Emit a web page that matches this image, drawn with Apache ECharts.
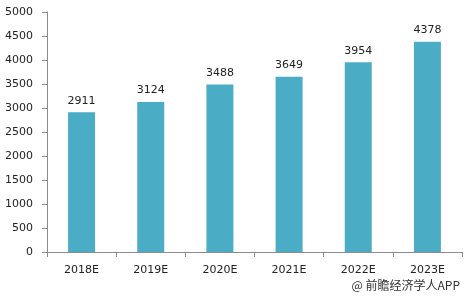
<!DOCTYPE html>
<html><head><meta charset="utf-8">
<script src="https://cdn.jsdelivr.net/npm/echarts@6/dist/echarts.min.js"></script>
<style>html,body{margin:0;padding:0;background:#fff}#c{width:470px;height:298px}</style>
</head><body><div id="c"></div>
<script>
var categories = ["2018E","2019E","2020E","2021E","2022E","2023E"];
var values = [2911,3124,3488,3649,3954,4378];
var yTicks = [0,500,1000,1500,2000,2500,3000,3500,4000,4500,5000];

var chart = echarts.init(document.getElementById('c'), null, {renderer:'canvas'});
var font = 'DejaVu Sans';
chart.setOption({
  animation:false,
  backgroundColor:'#ffffff',
  grid:{left:47,right:8,top:12,bottom:46,containLabel:false},
  xAxis:{type:'category',data:categories,
    axisLine:{lineStyle:{color:'#8c8c8c',width:1}},
    axisTick:{show:true,alignWithLabel:false,length:5,lineStyle:{color:'#8c8c8c'}},
    axisLabel:{color:'#222',fontFamily:font,fontSize:11,margin:13}},
  yAxis:{type:'value',min:yTicks[0],max:yTicks[yTicks.length-1],interval:500,
    axisLine:{show:true,lineStyle:{color:'#8c8c8c',width:1}},
    axisTick:{show:true,length:5,lineStyle:{color:'#8c8c8c'}},
    splitLine:{show:false},
    axisLabel:{color:'#222',fontFamily:font,fontSize:11,margin:14,formatter:function(v){return String(v);}}},
  series:[{type:'bar',data:values,barWidth:'39%',
    itemStyle:{color:'#4bacc6'},
    label:{show:true,position:'top',distance:6,color:'#222',fontFamily:font,fontSize:11}}],
  graphic:[{type:'text',right:10,top:279,style:{text:'@ 前瞻经济学人APP',fill:'#333',font:'12px "Noto Sans CJK SC"'}}]
});
</script></body></html>
